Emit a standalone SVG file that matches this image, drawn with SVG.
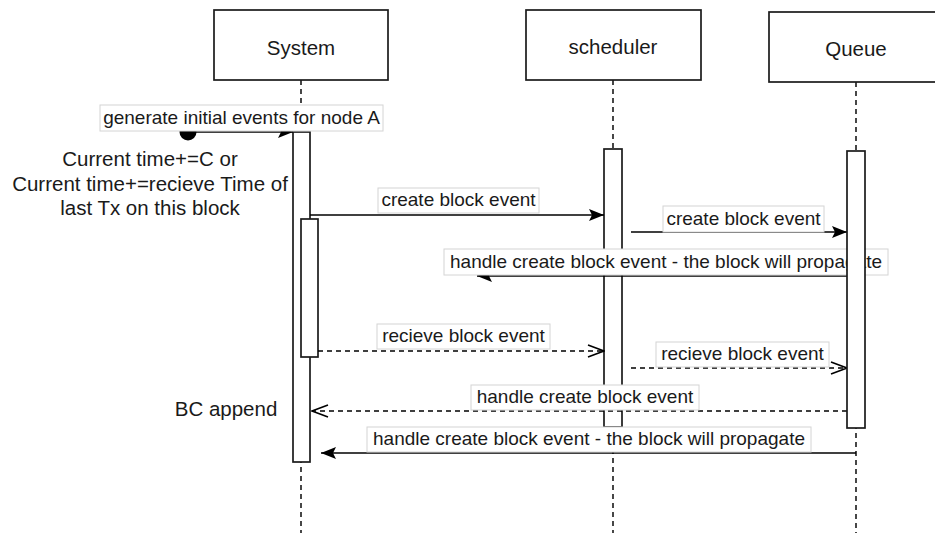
<svg xmlns="http://www.w3.org/2000/svg" width="935" height="533" viewBox="0 0 935 533">
<style>
.box{fill:#fff;stroke:#1a1a1a;stroke-width:1.7}
.act{fill:#fff;stroke:#1a1a1a;stroke-width:1.7}
.life{stroke:#1a1a1a;stroke-width:1.6;stroke-dasharray:5 4;fill:none}
.t{font-family:"Liberation Sans",Arial,Helvetica,sans-serif;fill:#1a1a1a}
.title{font-size:20.5px;text-anchor:middle}
.note{font-size:20.5px;text-anchor:middle}
.lbl{font-size:19px;text-anchor:middle}
.lblbox{fill:#fff;stroke:#d4d4d4;stroke-width:1}
.solid{stroke:#000;stroke-width:1.6;fill:none;marker-end:url(#filled)}
.dash{stroke:#000;stroke-width:1.6;fill:none;stroke-dasharray:5 4;marker-end:url(#open)}
</style>
<defs>
<marker id="filled" markerUnits="userSpaceOnUse" viewBox="0 0 15 12" refX="15" refY="6" markerWidth="15" markerHeight="12" orient="auto">
<path d="M0,0 L15,6 L0,12 L3,6 Z" fill="#000"/>
</marker>
<marker id="open" markerUnits="userSpaceOnUse" viewBox="-1 -1 18 14" refX="16" refY="6" markerWidth="18" markerHeight="14" orient="auto">
<path d="M0,0 L16,6 L0,12" fill="none" stroke="#000" stroke-width="1.6"/>
</marker>
</defs>
<rect width="935" height="533" fill="#fff"/>

<g id="system">
<line class="life" x1="301" y1="80" x2="301" y2="533"/>
<rect class="box" x="214" y="10" width="174" height="70"/>
<text class="t title" x="301" y="55">System</text>
<rect class="act" x="293" y="132" width="17" height="330"/>
<rect class="act" x="301" y="219" width="17" height="138"/>
</g>

<g id="scheduler">
<line class="life" x1="613" y1="80" x2="613" y2="533"/>
<rect class="box" x="526" y="10" width="175" height="70"/>
<text class="t title" x="613" y="54">scheduler</text>
<rect class="act" x="604" y="149" width="18" height="278"/>
</g>

<g id="queue">
<line class="life" x1="856" y1="82" x2="856" y2="533"/>
<rect class="box" x="769" y="12" width="174" height="70"/>
<text class="t title" x="856" y="56">Queue</text>
</g>

<g id="notes">
<text class="t note" x="150" y="166">Current time+=C or</text>
<text class="t note" x="150" y="191">Current time+=recieve Time of</text>
<text class="t note" x="150" y="215">last Tx on this block</text>
<text class="t note" x="226" y="416">BC append</text>
</g>

<g id="connectors">
<circle cx="188" cy="132" r="8.5" fill="#000"/>
<path class="solid" d="M188,132 H293"/>
<path class="solid" d="M310,215 H604"/>
<path class="solid" d="M631,232 H847"/>
<path class="solid" d="M847,276 H477"/>
<path class="dash" d="M318,351 H604"/>
<path class="dash" d="M631,368 H847"/>
<path class="dash" d="M847,411 H312"/>
<path class="solid" d="M856,453 H321"/>

<rect class="lblbox" x="100" y="105" width="283" height="26"/>
<text class="t lbl" x="241.5" y="124">generate initial events for node A</text>
<rect class="lblbox" x="378" y="188" width="161" height="25"/>
<text class="t lbl" x="458.5" y="206">create block event</text>
<rect class="lblbox" x="663" y="206" width="161" height="26"/>
<text class="t lbl" x="743.5" y="225">create block event</text>
<rect class="lblbox" x="444" y="249" width="444" height="26"/>
<text class="t lbl" x="666" y="268">handle create block event - the block will propagate</text>
<rect class="lblbox" x="377" y="324" width="173" height="25"/>
<text class="t lbl" x="463.5" y="342">recieve block event</text>
<rect class="lblbox" x="656" y="342" width="173" height="25"/>
<text class="t lbl" x="742.5" y="360">recieve block event</text>
<rect class="lblbox" x="471" y="385" width="228" height="25"/>
<text class="t lbl" x="585" y="403">handle create block event</text>
<rect class="lblbox" x="367" y="427" width="444" height="25"/>
<text class="t lbl" x="589" y="445">handle create block event - the block will propagate</text>
</g>

<g id="queue-activation">
<rect class="act" x="847" y="151" width="18" height="277"/>
</g>
</svg>
